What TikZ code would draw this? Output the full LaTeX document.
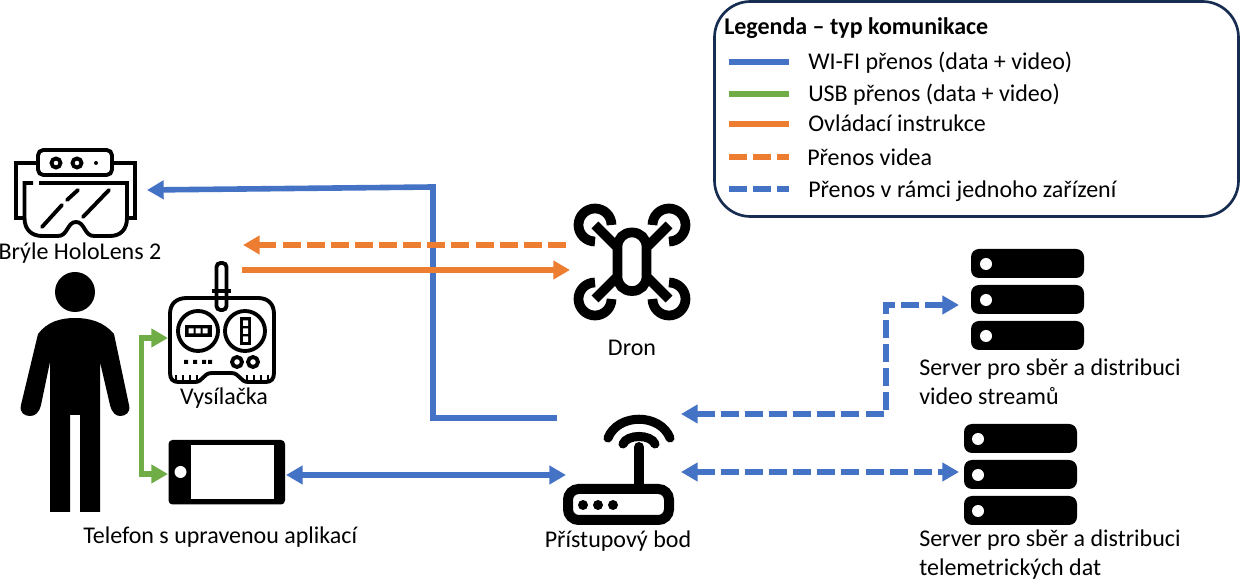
\documentclass[tikz,border=0pt]{standalone}
\usepackage{fontspec}
\setmainfont{Carlito}
\usetikzlibrary{arrows.meta}
\definecolor{wblue}{HTML}{4472C4}
\definecolor{wgreen}{HTML}{70AD47}
\definecolor{worange}{HTML}{ED7D31}
\definecolor{wnavy}{HTML}{172C51}
\tikzset{
  conn/.style={line width=4.2pt},
  dashline/.style={conn,dash pattern=on 13.5pt off 4.6pt},
  tip/.style={-{Triangle[length=12.5pt,width=13.5pt]}},
  twotip/.style={{Triangle[length=12.5pt,width=13.5pt]}-{Triangle[length=12.5pt,width=13.5pt]}},
  lbl/.style={font=\fontsize{18pt}{21.75pt}\selectfont,inner sep=0pt,text=black},
  leg/.style={lbl,anchor=base west},
  ico/.style={line width=2.9pt,black},
  thick9/.style={line width=7.3pt,black},
}
\begin{document}
\begin{tikzpicture}[x=0.75pt,y=-0.75pt]
\useasboundingbox (0,0) rectangle (1240,580);
\fill[white] (0,0) rectangle (1240,580);

% Legend
\draw[wnavy,line width=2pt,rounded corners=27pt] (714.5,1.5) rectangle (1238.5,216.5);
\node[leg,font=\fontsize{18pt}{21pt}\selectfont\bfseries] (legtitle) at (724,35) {Legenda – typ komunikace};
\coordinate (la1) at (729,62); \coordinate (lb1) at (789,62);
\coordinate (la2) at (729,94); \coordinate (lb2) at (789,94);
\coordinate (la3) at (729,124); \coordinate (lb3) at (789,124);
\coordinate (la4) at (729,157); \coordinate (lb4) at (789,157);
\coordinate (la5) at (729,189); \coordinate (lb5) at (789,189);
\draw[conn,wblue] (la1)--(lb1);
\draw[conn,wgreen] (la2)--(lb2);
\draw[conn,worange] (la3)--(lb3);
\draw[dashline,worange] (la4)--(lb4);
\draw[dashline,wblue] (la5)--(lb5);
\node[leg] (lt1) at (808,70) {WI-FI přenos (data + video)};
\node[leg] (lt2) at (808,102) {USB přenos (data + video)};
\node[leg] (lt3) at (808,132) {Ovládací instrukce};
\node[leg] (lt4) at (807,166) {Přenos videa};
\node[leg] (lt5) at (808,198) {Přenos v rámci jednoho zařízení};

% Glasses
\draw[ico,rounded corners=4pt] (38,150) rectangle (112,175);
\draw[ico] (56,163) circle (4.5) (77,163) circle (4.5);
\fill (96,163) circle (2);
\draw[ico] (38,163)--(16,163)--(16,218)--(25,218);
\draw[ico] (112,163)--(135,163)--(135,218)--(127,218);
\draw[ico] (33,183)--(24.5,183)--(24.5,218) .. controls (24.5,230) and (32,236) .. (42,236)
  -- (58,236) .. controls (68,236) and (67,222) .. (76,222) .. controls (85,222) and (84,236) .. (94,236)
  -- (110,236) .. controls (120,236) and (127,230) .. (127,218) -- (127,183) -- (39,183);
\draw[ico,line cap=round] (42,227)--(62,205) (67,200)--(78,190) (83,217)--(109,190);
\node[lbl] (glasses) at (80,253) {Brýle HoloLens 2};

% Person
\fill (75,292) circle (20);
\fill (75,318) .. controls (60,318) and (47,322) .. (38,334) -- (21,405)
  .. controls (19,413) and (25,416) .. (30,416) .. controls (35,416) and (39,413) .. (41,405)
  -- (50,362) -- (50,512) -- (70,512) -- (70,415) -- (80,415) -- (80,512) -- (100,512) -- (100,362)
  -- (110,405) .. controls (112,413) and (116,416) .. (120,416) .. controls (125,416) and (131,413) .. (129,405)
  -- (114,334) .. controls (104,322) and (90,318) .. (75,318) -- cycle;

% Remote controller
\draw[ico,line join=round] (187,298) -- (258,298) .. controls (268,298) and (274,304) .. (274,314)
  -- (274,373) .. controls (274,379) and (271,382) .. (266,382) -- (248,382)
  .. controls (240,382) and (240,373) .. (231,373) -- (212,373)
  .. controls (203,373) and (203,382) .. (195,382) -- (178,382)
  .. controls (173,382) and (170,379) .. (170,373) -- (170,314) .. controls (170,304) and (176,298) .. (187,298) -- cycle;
\draw[ico,rounded corners=3pt] (216.5,291) -- (216.5,263) -- (226.5,263) -- (226.5,291);
\draw[ico] (212,291)--(231,291);
\draw[ico,rounded corners=3pt] (216.5,291) -- (216.5,310) -- (226.5,310) -- (226.5,291);
\draw[ico] (198,331) circle (20) (245,331) circle (20);
\fill (185,325) rectangle (212,337);
\fill (240,317) rectangle (251,345);
\fill[white] (188.5,328.5) rectangle (193.5,333.5) (195.5,328.5) rectangle (200.5,333.5) (202.5,328.5) rectangle (207.5,333.5);
\fill[white] (243,320.5) rectangle (248,326) (243,328.5) rectangle (248,334) (243,336.5) rectangle (248,342);
\fill (184,360) rectangle (188,364) (193,360) rectangle (197,364) (202,360) rectangle (206,364) (208,360) rectangle (212,364);
\draw[ico] (237,362) circle (5) (253,362) circle (5);
\foreach \tx in {176,183,190,197,247,254,261,268} \draw[black,line width=1.3pt] (\tx,375)--(\tx,381);
\node[lbl] (remote) at (224,398) {Vysílačka};

% Phone
\fill[rounded corners=3pt] (168.5,440) rectangle (285,504.5);
\fill[white] (191,445.5) rectangle (274,499);
\fill[white] (180.5,472) circle (6);
\node[lbl,anchor=base west] (phone) at (83,544) {Telefon s upravenou aplikací};

% Drone
\draw[thick9,rounded corners=10.5pt] (617.5,232.5) rectangle (646.5,291);
\draw[thick9] (595,225)--(616,246) (669,225)--(648,246) (595,299)--(616,278) (669,299)--(648,278);
\draw[thick9] (611.5,225) arc[start angle=0,end angle=-270,radius=16.5];
\draw[thick9] (652.5,225) arc[start angle=-180,end angle=90,radius=16.5];
\draw[thick9] (595,282.5) arc[start angle=-90,end angle=-360,radius=16.5];
\draw[thick9] (669,282.5) arc[start angle=-90,end angle=180,radius=16.5];
\node[lbl] (drone) at (632,348) {Dron};

% Router
\draw[black,line width=7.5pt,rounded corners=8pt] (568,489) rectangle (669,520);
\fill (583,505) circle (5) (598,505) circle (5) (613,505) circle (5);
\draw[black,line width=7.5pt,line cap=round] (639,447)--(639,486);
\draw[black,line width=6.8pt,line cap=round] (623,444) .. controls (627,434) and (651,434) .. (655,444);
\draw[black,line width=6.8pt,line cap=round] (608,438) .. controls (618,413) and (660,413) .. (670,438);
\node[lbl] (router) at (618,541) {Přístupový bod};

% Servers
\fill[rounded corners=6pt] (971,249) rectangle (1084,278) (971,285) rectangle (1084,314) (971,321) rectangle (1084,350);
\fill[white] (986,264) circle (6) (986,300) circle (6) (986,336) circle (6);
\node[lbl,anchor=base west,align=left] (srv1) at (919,405) {Server pro sběr a distribuci\\video streamů};
\fill[rounded corners=6pt] (964,424) rectangle (1077,453) (964,460) rectangle (1077,489) (964,496) rectangle (1077,525);
\fill[white] (978,439) circle (6) (978,475) circle (6) (978,511) circle (6);
\node[lbl,anchor=base west,align=left] (srv2) at (919,576) {Server pro sběr a distribuci\\telemetrických dat};

% Connector anchors
\coordinate (glassesIn) at (147,190);
\coordinate (wifiJoin) at (433,187);
\coordinate (wifiLow) at (433,418);
\coordinate (routerWifi) at (557,418);
\coordinate (droneOut) at (566,245);
\coordinate (remoteVideo) at (243,245);
\coordinate (remoteOut) at (242,270);
\coordinate (droneIn) at (570,270);
\coordinate (remoteUsb) at (168,338);
\coordinate (usbTop) at (141.5,338);
\coordinate (usbLow) at (141.5,474);
\coordinate (phoneUsb) at (168,474);
\coordinate (phoneWifi) at (286,475);
\coordinate (routerPhone) at (566,475);
\coordinate (routerA) at (681,414);
\coordinate (bendA) at (886,414);
\coordinate (bendB) at (886,305);
\coordinate (srv1In) at (959,305);
\coordinate (routerB) at (681,472);
\coordinate (srv2In) at (959,472);

% Connectors
\draw[conn,wblue,tip] (wifiJoin)--(glassesIn);
\draw[conn,wblue] (433,184.5)--(wifiLow)--(routerWifi);
\draw[dashline,worange,tip] (droneOut)--(remoteVideo);
\draw[conn,worange,tip] (remoteOut)--(droneIn);
\draw[conn,wgreen,twotip] (remoteUsb)--(usbTop)--(usbLow)--(phoneUsb);
\draw[conn,wblue,twotip] (phoneWifi)--(routerPhone);
\draw[dashline,wblue,twotip] (routerA)--(bendA)--(bendB)--(srv1In);
\draw[dashline,wblue,twotip] (routerB)--(srv2In);
\end{tikzpicture}
\end{document}
